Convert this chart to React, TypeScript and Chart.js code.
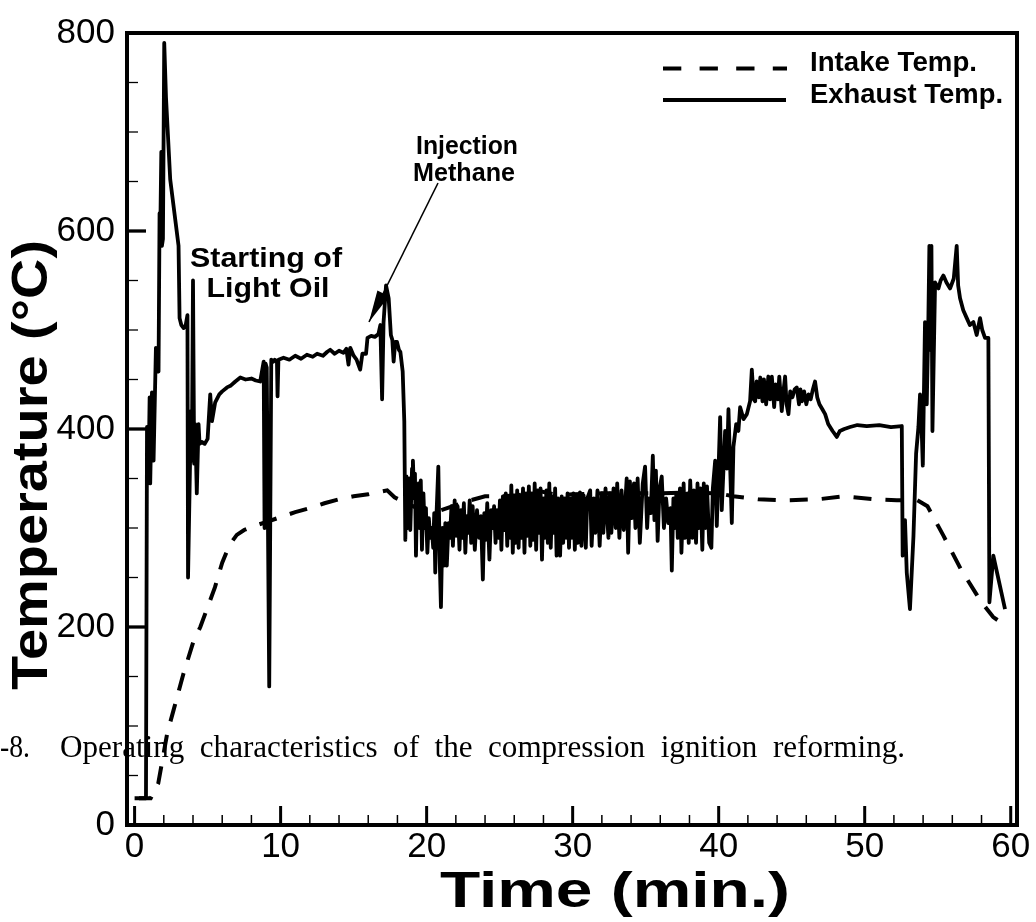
import React, { useEffect, useRef } from "react";
import { Chart, registerables } from "chart.js";

Chart.register(...registerables);

// ---------- axes ----------
const xTicks = [0, 10, 20, 30, 40, 50, 60];
const yTicks = [0, 200, 400, 600, 800];
const xMinorStep = 2;
const yMinorStep = 50;
const xRange = [-0.52, 60.43];
const yRange = [0, 800];

// ---------- labels ----------
const xTitle = "Time (min.)";
const yTitle = "Temperature (°C)";
const seriesNames = ["Intake Temp.", "Exhaust Temp."];
const noteLightOil = ["Starting of", "Light Oil"];
const noteMethane = ["Injection", "Methane"];
const captionNo = "-8.";
const captionText = "Operating characteristics of the compression ignition reforming.";

// ---------- data: [time (min), temperature (°C)] ----------
const intakeTemp: number[][] = [
  [0, 27], [1.1, 27], [1.62, 42], [2.24, 93], [2.65, 115], [3.33, 152], [4.02, 185], [4.5, 200],
  [5.05, 222], [5.5, 240], [6.0, 265], [6.5, 283], [7.0, 293], [7.5, 298], [8.0, 301], [9.0, 306],
  [10, 311], [11, 316], [12, 320], [13, 325], [14, 329], [15, 332], [16, 334], [17.3, 338],
  [17.8, 331], [18.5, 326], [19.5, 319], [21.0, 318], [22.0, 323], [23.0, 328], [24.0, 332],
  [25.0, 332], [26.2, 333], [27.8, 337], [29.0, 333], [30, 334], [32, 335], [34, 335], [36, 335],
  [38, 336], [40, 335], [41, 332], [42.7, 329], [44.6, 328], [46.8, 329], [48.6, 332], [50.6, 329],
  [52.2, 328], [53.6, 328], [54.3, 322], [55.4, 292], [56.6, 258], [57.7, 232], [58.0, 225],
  [58.8, 210], [59.5, 203],
];

const exhaustWarmup: number[][] = [
  [0.3, 27], [0.78, 27], [0.85, 402], [0.95, 350], [1.03, 432], [1.07, 345], [1.19, 437], [1.3, 368],
  [1.46, 482], [1.64, 458], [1.71, 618], [1.76, 600], [1.83, 680], [1.87, 585], [1.94, 592],
  [2.03, 790], [2.15, 735], [2.44, 652], [3.01, 585], [3.08, 512], [3.2, 505], [3.36, 502],
  [3.5, 505], [3.62, 515], [3.66, 250], [3.86, 418], [3.92, 368], [4.0, 550], [4.08, 365],
  [4.15, 405], [4.26, 335], [4.38, 405], [4.45, 385], [4.6, 387], [4.8, 385], [5.0, 390],
  [5.18, 435], [5.3, 408], [5.52, 427], [5.8, 435], [6.0, 438], [6.33, 442], [6.6, 444],
  [6.9, 448], [7.24, 452], [7.6, 450], [8.0, 451], [8.3, 449], [8.6, 448], [8.84, 468],
  [8.9, 300], [8.97, 466], [9.05, 462], [9.22, 140], [9.36, 470], [9.5, 468],
];

const exhaustPlateau: number[][] = [
  [9.6, 470], [9.75, 468], [9.79, 433], [9.85, 470], [10.2, 472], [10.6, 470], [11.0, 474],
  [11.4, 471], [11.8, 475], [12.2, 473], [12.5, 476], [12.9, 474], [13.2, 478], [13.4, 480],
  [13.7, 476], [14.0, 479], [14.3, 477], [14.5, 481], [14.65, 465], [14.77, 482], [15.0, 474],
  [15.2, 470], [15.45, 460], [15.6, 476], [15.85, 476], [15.95, 492], [16.2, 494], [16.45, 493],
  [16.7, 496], [16.83, 505], [16.95, 430], [17.05, 508], [17.22, 545], [17.4, 532], [17.55, 495],
  [17.65, 490], [17.74, 468], [17.85, 488], [17.97, 488], [18.1, 480], [18.2, 478], [18.36, 458],
  [18.47, 408],
];

const exhaustMethane: number[][] = [
  [18.54, 288], [18.62, 352], [18.7, 300], [18.8, 350], [18.88, 298], [19.0, 360], [19.06, 368],
  [19.15, 330], [19.2, 355], [19.27, 272], [19.35, 340], [19.45, 345], [19.52, 300], [19.6, 348],
  [19.68, 278], [19.78, 335], [19.86, 300], [19.95, 320], [20.05, 275], [20.15, 310], [20.25, 290],
  [20.35, 300], [20.45, 280], [20.52, 315], [20.59, 255], [20.68, 315], [20.8, 362], [20.9, 265],
  [20.98, 220], [21.08, 300], [21.18, 262], [21.28, 305], [21.38, 262], [21.5, 305], [21.6, 290],
  [21.7, 322], [21.8, 282], [21.92, 328], [22.02, 292], [22.12, 322], [22.25, 278], [22.35, 318],
  [22.45, 290], [22.55, 325], [22.65, 275], [22.75, 312], [22.85, 295], [22.95, 328], [23.05, 285],
  [23.15, 322], [23.3, 278], [23.45, 318], [23.6, 290], [23.72, 312], [23.85, 248], [23.95, 315],
  [24.05, 288], [24.15, 325], [24.3, 268], [24.42, 318], [24.52, 300], [24.62, 322], [24.72, 285],
  [24.82, 318], [24.92, 290], [25.02, 328], [25.12, 278], [25.22, 332], [25.32, 298], [25.42, 335],
  [25.52, 282], [25.62, 330], [25.72, 290], [25.8, 343], [25.9, 275], [26.0, 330], [26.1, 285],
  [26.2, 338], [26.3, 280], [26.4, 332], [26.5, 290], [26.6, 340], [26.7, 275], [26.8, 335],
  [26.9, 292], [27.0, 342], [27.1, 282], [27.2, 335], [27.3, 288], [27.4, 345], [27.5, 278],
  [27.6, 338], [27.7, 295], [27.8, 340], [27.9, 268], [28.0, 330], [28.1, 290], [28.2, 338],
  [28.3, 285], [28.4, 345], [28.5, 280], [28.6, 332], [28.7, 295], [28.8, 340], [28.9, 272],
  [29.0, 330], [29.14, 272], [29.25, 332], [29.35, 285], [29.45, 330], [29.55, 290], [29.65, 335],
  [29.75, 280], [29.85, 330], [29.95, 290], [30.05, 335], [30.15, 278], [30.25, 332], [30.35, 285],
  [30.5, 336], [30.6, 282], [30.75, 333], [30.9, 280], [31.0, 330], [31.2, 338], [31.3, 282],
  [31.45, 330], [31.55, 295], [31.7, 338], [31.85, 282], [32.0, 335], [32.1, 295], [32.25, 340],
  [32.35, 315], [32.45, 290], [32.55, 335], [32.65, 295], [32.8, 340], [32.95, 300], [33.05, 345],
  [33.2, 290], [33.35, 338], [33.5, 298], [33.7, 350], [33.8, 275], [33.92, 347], [34.05, 310],
  [34.2, 345], [34.3, 300], [34.45, 350], [34.6, 285], [34.8, 345], [34.96, 362], [35.1, 300],
  [35.2, 330], [35.35, 315], [35.49, 373], [35.6, 308], [35.7, 358], [35.82, 287], [35.95, 340],
  [36.1, 352], [36.25, 300], [36.4, 330], [36.55, 305], [36.7, 320], [36.79, 257], [36.9, 330],
  [37.0, 300], [37.1, 335], [37.2, 290], [37.35, 340], [37.45, 275], [37.6, 345], [37.7, 290],
  [37.85, 335], [37.95, 285], [38.05, 348], [38.2, 290], [38.3, 338], [38.45, 285], [38.55, 345],
  [38.65, 300], [38.75, 340], [38.88, 278], [38.98, 345], [39.1, 300], [39.2, 342], [39.35, 285],
  [39.5, 280], [39.6, 340],
];

const exhaustHigh: number[][] = [
  [39.76, 368], [39.87, 302], [40.1, 412], [40.21, 318], [40.44, 398], [40.56, 360], [40.67, 420],
  [40.9, 305], [41.01, 382], [41.2, 405], [41.35, 398], [41.47, 422], [41.7, 410], [41.93, 415],
  [42.15, 428], [42.27, 460], [42.4, 430], [42.5, 428], [42.6, 448], [42.75, 432], [42.85, 452],
  [43.0, 428], [43.1, 450], [43.25, 425], [43.4, 453], [43.52, 430], [43.64, 453], [43.8, 422],
  [43.9, 445], [44.05, 430], [44.15, 453], [44.32, 418], [44.45, 440], [44.55, 453], [44.65, 425],
  [44.78, 415], [44.9, 438], [45.05, 432], [45.2, 440], [45.35, 442], [45.5, 425], [45.6, 440],
  [45.7, 428], [45.85, 438], [46.0, 425], [46.15, 435], [46.3, 430], [46.45, 440], [46.6, 448],
  [46.75, 432], [46.9, 425], [47.1, 420], [47.29, 415], [47.5, 405], [47.8, 398], [48.09, 392],
  [48.3, 398], [48.6, 400], [49.0, 402], [49.5, 404], [50.14, 403], [51.0, 404], [51.8, 402],
  [52.54, 403],
];

const exhaustFinal: number[][] = [
  [52.6, 272], [52.76, 308], [52.88, 255], [53.1, 218], [53.34, 292], [53.52, 375], [53.68, 402],
  [53.79, 435], [53.9, 400], [53.98, 363], [54.13, 508], [54.25, 425], [54.35, 500], [54.43, 585],
  [54.5, 480], [54.57, 585], [54.64, 398], [54.82, 548], [55.05, 542], [55.2, 550], [55.39, 555],
  [55.6, 548], [55.85, 542], [56.1, 552], [56.3, 585], [56.4, 545], [56.53, 532], [56.75, 520],
  [56.99, 512], [57.2, 505], [57.44, 508], [57.67, 495], [57.9, 512], [58.05, 500], [58.24, 492],
  [58.47, 492], [58.54, 225], [58.81, 272], [59.61, 218],
];

const exhaustTemp = [
  ...exhaustWarmup, ...exhaustPlateau, ...exhaustMethane, ...exhaustHigh, ...exhaustFinal,
];

const toPoints = (arr: number[][]) => arr.map(([x, y]) => ({ x, y }));

const SANS = "'Liberation Sans', Arial, Helvetica, sans-serif";
const SERIF = "'Liberation Serif', 'Times New Roman', serif";

function fitText(
  ctx: CanvasRenderingContext2D,
  text: string,
  x: number,
  y: number,
  font: string,
  width: number,
  align: CanvasTextAlign = "center",
  rotate = 0,
  wordSpacing?: string
) {
  ctx.save();
  ctx.font = font;
  if (wordSpacing && "wordSpacing" in ctx) (ctx as any).wordSpacing = wordSpacing;
  const w = ctx.measureText(text).width;
  ctx.translate(x, y);
  if (rotate) ctx.rotate(rotate);
  ctx.scale(width / w, 1);
  ctx.textAlign = align;
  ctx.textBaseline = "alphabetic";
  ctx.fillStyle = "#000";
  ctx.fillText(text, 0, 0);
  ctx.restore();
}

const framePlugin = {
  id: "frame",
  afterDatasetsDraw(chart: any) {
    const { ctx, chartArea: a, scales } = chart;
    const xs = scales.x;
    const ys = scales.y;
    ctx.save();
    ctx.strokeStyle = "#000";
    ctx.lineCap = "butt";
    for (let v = Math.ceil(xs.min / xMinorStep) * xMinorStep; v <= xs.max; v += xMinorStep) {
      const major = xTicks.includes(v);
      const px = xs.getPixelForValue(v);
      ctx.lineWidth = major ? 3 : 1.5;
      ctx.beginPath();
      ctx.moveTo(px, a.bottom);
      ctx.lineTo(px, a.bottom - (major ? 19 : 10));
      ctx.stroke();
    }
    for (let v = Math.ceil(ys.min / yMinorStep) * yMinorStep; v <= ys.max; v += yMinorStep) {
      const major = yTicks.includes(v);
      const py = ys.getPixelForValue(v);
      ctx.lineWidth = major ? 3.3 : 1.3;
      ctx.beginPath();
      ctx.moveTo(a.left, py);
      ctx.lineTo(a.left + (major ? 19 : 11), py);
      ctx.stroke();
    }
    ctx.lineWidth = 4;
    ctx.strokeRect(a.left, a.top, a.right - a.left, a.bottom - a.top);
    ctx.restore();
  },
  afterDraw(chart: any) {
    const { ctx } = chart;
    ctx.save();
    // legend
    ctx.strokeStyle = "#000";
    ctx.lineWidth = 4;
    ctx.setLineDash([18.3, 18.3]);
    ctx.beginPath();
    ctx.moveTo(663, 68.5);
    ctx.lineTo(787, 68.5);
    ctx.stroke();
    ctx.setLineDash([]);
    ctx.beginPath();
    ctx.moveTo(663, 100);
    ctx.lineTo(786, 100);
    ctx.stroke();
    fitText(ctx, seriesNames[0], 810, 71, `bold 28px ${SANS}`, 167, "left");
    fitText(ctx, seriesNames[1], 810, 103, `bold 28px ${SANS}`, 193, "left");

    // annotations
    fitText(ctx, noteLightOil[0], 266, 267, `bold 28px ${SANS}`, 152);
    fitText(ctx, noteLightOil[1], 268, 297, `bold 28px ${SANS}`, 123);
    fitText(ctx, noteMethane[0], 467, 154, `bold 26px ${SANS}`, 102);
    fitText(ctx, noteMethane[1], 464, 181, `bold 26px ${SANS}`, 102);

    // arrow
    const sx = 438, sy = 183, tx = 369, ty = 322;
    const ang = Math.atan2(ty - sy, tx - sx);
    ctx.lineWidth = 1.6;
    ctx.beginPath();
    ctx.moveTo(sx, sy);
    ctx.lineTo(tx, ty);
    ctx.stroke();
    const L = 32, H = 6.5;
    ctx.fillStyle = "#000";
    ctx.beginPath();
    ctx.moveTo(tx, ty);
    ctx.lineTo(tx - L * Math.cos(ang) - H * Math.sin(ang), ty - L * Math.sin(ang) + H * Math.cos(ang));
    ctx.lineTo(tx - L * Math.cos(ang) + H * Math.sin(ang), ty - L * Math.sin(ang) - H * Math.cos(ang));
    ctx.closePath();
    ctx.fill();

    // axis titles
    fitText(ctx, xTitle, 615, 907, `bold 50px ${SANS}`, 350);
    fitText(ctx, yTitle, 47, 465, `bold 50px ${SANS}`, 450, "center", -Math.PI / 2);

    // caption overlay
    fitText(ctx, captionNo, 0, 757, `32px ${SERIF}`, 30, "left");
    fitText(ctx, captionText, 60, 757, `32px ${SERIF}`, 845, "left", 0, "8px");
    ctx.restore();
  },
};

export default function App() {
  const ref = useRef<HTMLCanvasElement | null>(null);

  useEffect(() => {
    document.body.style.margin = "0";
    const canvas = ref.current;
    if (!canvas) return;
    const chart = new Chart(canvas, {
      type: "line",
      data: {
        datasets: [
          {
            label: seriesNames[1],
            data: toPoints(exhaustTemp),
            borderColor: "#000",
            borderWidth: 3.8,
            pointRadius: 0,
            fill: false,
            tension: 0,
            borderJoinStyle: "round",
            order: 0,
          },
          {
            label: seriesNames[0],
            data: toPoints(intakeTemp),
            borderColor: "#000",
            borderWidth: 4,
            borderDash: [18, 14],
            pointRadius: 0,
            fill: false,
            tension: 0,
            order: 1,
          },
        ],
      },
      options: {
        animation: false,
        responsive: false,
        events: [],
        layout: { padding: { top: 25, right: 19, left: 0, bottom: 0 } },
        plugins: { legend: { display: false }, tooltip: { enabled: false } },
        scales: {
          x: {
            type: "linear",
            min: xRange[0],
            max: xRange[1],
            grid: { display: false, drawTicks: false },
            border: { display: false },
            ticks: {
              color: "#000",
              font: { family: SANS, size: 35 },
              padding: 1,
              maxRotation: 0,
              autoSkip: false,
            },
            afterBuildTicks: (s: any) => {
              s.ticks = xTicks.map((v) => ({ value: v }));
            },
            afterFit: (s: any) => {
              s.height = 97;
            },
          },
          y: {
            type: "linear",
            min: yRange[0],
            max: yRange[1],
            grid: { display: false, drawTicks: false },
            border: { display: false },
            ticks: {
              color: "#000",
              font: { family: SANS, size: 35 },
              padding: 12,
              autoSkip: false,
            },
            afterBuildTicks: (s: any) => {
              s.ticks = yTicks.map((v) => ({ value: v }));
            },
            afterFit: (s: any) => {
              s.width = 127;
            },
          },
        },
      },
      plugins: [framePlugin],
    } as any);
    return () => chart.destroy();
  }, []);

  return (
    <canvas ref={ref} width={1036} height={922} style={{ display: "block" }} />
  );
}
